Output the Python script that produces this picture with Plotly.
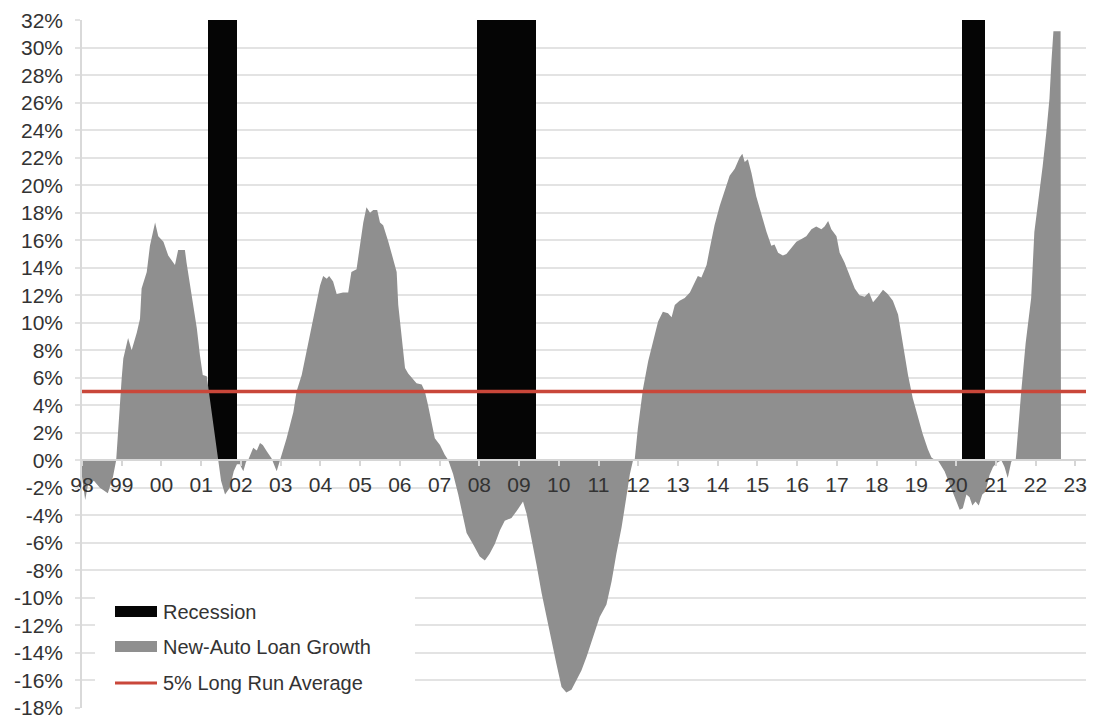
import plotly.graph_objects as go

# New-auto loan growth (y/y, %) by fractional calendar year
loan_year = [
    1998.00, 1998.08, 1998.15, 1998.30, 1998.45, 1998.65, 1998.78, 1998.86,
    1999.00, 1999.04, 1999.16, 1999.25, 1999.38, 1999.46, 1999.50, 1999.63, 1999.71, 1999.84, 1999.92,
    2000.05, 2000.17, 2000.34, 2000.42, 2000.59, 2000.63, 2000.76, 2000.89, 2000.97,
    2001.04, 2001.14, 2001.26, 2001.35, 2001.42, 2001.50, 2001.60, 2001.72, 2001.82, 2001.90, 2001.97,
    2002.06, 2002.13, 2002.18, 2002.31, 2002.40, 2002.48, 2002.55, 2002.65, 2002.77, 2002.90, 2002.98,
    2003.15, 2003.32, 2003.40, 2003.53, 2003.69, 2003.86, 2003.99,
    2004.07, 2004.16, 2004.22, 2004.32, 2004.41, 2004.57, 2004.70, 2004.78, 2004.91, 2004.99,
    2005.08, 2005.16, 2005.25, 2005.33, 2005.43, 2005.50, 2005.58, 2005.71, 2005.83, 2005.92, 2005.96,
    2006.04, 2006.13, 2006.21, 2006.29, 2006.42, 2006.55, 2006.63, 2006.71, 2006.80, 2006.88,
    2007.01, 2007.13, 2007.22, 2007.34, 2007.47, 2007.59, 2007.68, 2007.84,
    2008.01, 2008.14, 2008.26, 2008.39, 2008.52, 2008.64, 2008.81, 2008.94,
    2009.06, 2009.10, 2009.19, 2009.31, 2009.44, 2009.57, 2009.69, 2009.82, 2009.94,
    2010.07, 2010.19, 2010.32, 2010.45, 2010.57, 2010.70, 2010.86,
    2011.03, 2011.20, 2011.33, 2011.45, 2011.58, 2011.70, 2011.79, 2011.87, 2011.91, 2011.99,
    2012.12, 2012.25, 2012.37, 2012.50, 2012.62, 2012.75, 2012.84, 2012.92,
    2013.04, 2013.17, 2013.30, 2013.42, 2013.50, 2013.59, 2013.72, 2013.80, 2013.92,
    2014.05, 2014.18, 2014.30, 2014.43, 2014.55, 2014.62, 2014.68, 2014.76, 2014.85, 2014.97,
    2015.10, 2015.23, 2015.35, 2015.43, 2015.52, 2015.64, 2015.73, 2015.85, 2015.98,
    2016.11, 2016.23, 2016.36, 2016.48, 2016.61, 2016.69, 2016.78, 2016.86, 2016.99,
    2017.07, 2017.19, 2017.32, 2017.45, 2017.57, 2017.70, 2017.81, 2017.91,
    2018.03, 2018.16, 2018.28, 2018.41, 2018.54, 2018.62, 2018.70, 2018.79, 2018.91,
    2019.04, 2019.16, 2019.29, 2019.38, 2019.48, 2019.54, 2019.71, 2019.84, 2019.96,
    2020.09, 2020.17, 2020.26, 2020.34, 2020.41, 2020.49, 2020.57, 2020.66, 2020.74, 2020.84, 2020.93,
    2021.02, 2021.14, 2021.22, 2021.30, 2021.39, 2021.45, 2021.50, 2021.56, 2021.64, 2021.75, 2021.89, 2021.97,
    2022.08, 2022.18, 2022.27, 2022.35, 2022.40, 2022.45, 2022.60, 2022.63, 2022.64,
]
loan_growth = [
    -1.2, -2.9, -1.8, -1.5, -2.0, -2.4, -1.2, 0.0,
    6.0, 7.4, 8.9, 8.0, 9.3, 10.3, 12.5, 13.7, 15.6, 17.3, 16.3,
    15.9, 14.9, 14.2, 15.3, 15.3, 14.4, 12.0, 9.6, 7.6,
    6.2, 6.1, 3.6, 1.6, 0.0, -1.5, -2.5, -2.0, -0.8, -0.3, -0.3,
    -0.8, -0.1, 0.0, 0.9, 0.7, 1.25, 1.1, 0.65, 0.15, -0.8, 0.0,
    1.6, 3.5, 5.0, 6.2, 8.4, 10.8, 12.7,
    13.4, 13.2, 13.4, 13.0, 12.1, 12.2, 12.2, 13.7, 13.9, 15.6,
    17.3, 18.4, 18.0, 18.2, 18.2, 17.3, 17.1, 15.9, 14.7, 13.7, 11.3,
    8.9, 6.7, 6.3, 6.0, 5.6, 5.5, 5.0, 4.0, 2.8, 1.6,
    1.1, 0.4, 0.0, -1.0, -2.5, -4.2, -5.3, -6.1,
    -7.0, -7.3, -6.8, -6.1, -5.1, -4.4, -4.2, -3.7,
    -3.2, -3.0, -3.9, -5.6, -7.6, -9.7, -11.4, -13.1, -14.8,
    -16.5, -16.9, -16.7, -16.0, -15.3, -14.3, -12.9,
    -11.4, -10.5, -8.8, -6.8, -4.9, -2.7, -1.0, 0.0, 0.0, 2.3,
    5.2, 7.2, 8.6, 10.1, 10.8, 10.7, 10.4, 11.3,
    11.6, 11.8, 12.2, 13.0, 13.4, 13.3, 14.2, 15.4, 17.1,
    18.5, 19.7, 20.7, 21.2, 22.0, 22.3, 21.7, 21.9, 20.9, 19.2,
    17.8, 16.6, 15.6, 15.7, 15.1, 14.9, 15.0, 15.4, 15.9,
    16.1, 16.3, 16.8, 17.0, 16.8, 17.0, 17.4, 16.8, 16.3,
    15.1, 14.4, 13.4, 12.5, 12.0, 11.9, 12.2, 11.5,
    11.9, 12.4, 12.1, 11.6, 10.6, 9.1, 7.7, 6.2, 4.5,
    3.1, 1.9, 0.8, 0.2, 0.0, 0.0, -0.8, -1.8, -2.7,
    -3.6, -3.5, -2.5, -2.7, -3.3, -3.0, -3.3, -2.5, -2.3, -1.1, -0.5,
    -0.2, 0.0, -0.5, -1.3, -0.1, 0.0, 0.0, 2.3, 5.0, 8.5, 11.8, 16.6,
    19.0, 21.4, 23.8, 26.3, 29.0, 31.2, 31.2, 31.2, 0.0,
]
assert len(loan_year) == len(loan_growth)

# Recession periods (fractional years)
recession_start = [2001.17, 2007.94, 2020.14]
recession_end = [2001.91, 2009.42, 2020.72]

# Long run average of loan growth (%)
long_run_avg = 5.0

# Axis ticks
tick_years = [1998, 1999, 2000, 2001, 2002, 2003, 2004, 2005, 2006, 2007, 2008, 2009, 2010,
              2011, 2012, 2013, 2014, 2015, 2016, 2017, 2018, 2019, 2020, 2021, 2022, 2023]
tick_labels = ["98", "99", "00", "01", "02", "03", "04", "05", "06", "07", "08", "09", "10",
               "11", "12", "13", "14", "15", "16", "17", "18", "19", "20", "21", "22", "23"]
y_ticks = list(range(-18, 33, 2))

legend_names = ["Recession", "New-Auto Loan Growth", "5% Long Run Average"]

Y_MIN, Y_MAX = -18, 32
X_MIN, X_MAX = 1998.0, 2023.27
Y_PAD = 0.02  # keeps the end ticks inside the axis range

# Plot area in pixels
W, H = 1094, 720
M_L, M_R, M_T, M_B = 82, 8, 20, 12

FONT = "Liberation Sans, Arial, sans-serif"
TEXT = "#333333"
GRID = "#e3e3e3"
GRAY = "#8f8f8f"
BLACK = "#050505"
RED = "#c9473a"

fig = go.Figure()

# Recession columns from 0 up to the top of the axis
fig.add_trace(go.Bar(
    x=[(s + e) / 2 for s, e in zip(recession_start, recession_end)],
    y=[Y_MAX] * len(recession_start),
    width=[e - s for s, e in zip(recession_start, recession_end)],
    base=0,
    marker=dict(color=BLACK, line=dict(width=0)),
    name=legend_names[0],
    showlegend=False,
))

# Loan growth area
fig.add_trace(go.Scatter(
    x=loan_year, y=loan_growth,
    mode="lines", fill="tozeroy",
    line=dict(width=0, color=GRAY),
    fillcolor=GRAY,
    name=legend_names[1],
    showlegend=False,
))

# Long run average line
fig.add_trace(go.Scatter(
    x=[X_MIN, X_MAX], y=[long_run_avg, long_run_avg],
    mode="lines",
    line=dict(width=3.5, color=RED),
    name=legend_names[2],
    showlegend=False,
    cliponaxis=False,
))

y_lo, y_hi = Y_MIN - Y_PAD, Y_MAX + Y_PAD
zero_pos = (0 - y_lo) / (y_hi - y_lo)

fig.update_layout(
    width=W, height=H,
    autosize=False,
    margin=dict(l=M_L, r=M_R, t=M_T, b=M_B, pad=0, autoexpand=False),
    paper_bgcolor="white",
    plot_bgcolor="white",
    font=dict(family=FONT, size=21, color=TEXT),
    bargap=0,
    xaxis=dict(
        range=[X_MIN, X_MAX],
        anchor="free", position=zero_pos,
        tickmode="array", tickvals=tick_years, ticktext=tick_labels,
        ticks="outside", ticklen=5, tickwidth=1.5, tickcolor="#d6d6d6",
        showline=True, linecolor="#d6d6d6", linewidth=1.5,
        showgrid=False, zeroline=False,
        tickfont=dict(family=FONT, size=21, color=TEXT),
        ticklabelstandoff=1,
        automargin=False,
    ),
    yaxis=dict(
        range=[y_lo, y_hi],
        tickmode="array", tickvals=y_ticks,
        ticktext=[f"{v}%" for v in y_ticks],
        ticks="outside", ticklen=5, tickwidth=1.5, tickcolor=GRID,
        showline=True, linecolor="#d9d9d9", linewidth=1.5,
        showgrid=True, gridcolor=GRID, gridwidth=1.5,
        zeroline=False,
        tickfont=dict(family=FONT, size=21, color=TEXT),
        ticklabelstandoff=8,
        ticklabeloverflow="allow",
        automargin=False,
    ),
    showlegend=False,
)

# Legend panel (paper coordinates)
plot_w = W - M_L - M_R
plot_h = H - M_T - M_B


def px_x(px):
    return (px - M_L) / plot_w


def px_y(py):
    return (H - M_B - py) / plot_h


shapes = [
    dict(type="rect", xref="paper", yref="paper",
         x0=px_x(95), x1=px_x(415), y0=px_y(700), y1=px_y(589),
         fillcolor="white", line=dict(width=0), layer="above"),
    dict(type="rect", xref="paper", yref="paper",
         x0=px_x(115), x1=px_x(157), y0=px_y(617), y1=px_y(606),
         fillcolor=BLACK, line=dict(width=0), layer="above"),
    dict(type="rect", xref="paper", yref="paper",
         x0=px_x(115), x1=px_x(157), y0=px_y(652), y1=px_y(641),
         fillcolor=GRAY, line=dict(width=0), layer="above"),
    dict(type="line", xref="paper", yref="paper",
         x0=px_x(115), x1=px_x(157), y0=px_y(683), y1=px_y(683),
         line=dict(color=RED, width=3), layer="above"),
]
fig.update_layout(shapes=shapes)

for name, cy in zip(legend_names, [611.5, 646.5, 683]):
    fig.add_annotation(
        xref="paper", yref="paper", x=px_x(161), y=px_y(cy),
        xanchor="left", yanchor="middle", showarrow=False,
        text=name, font=dict(family=FONT, size=20, color=TEXT),
    )

fig.write_html("out.html")
